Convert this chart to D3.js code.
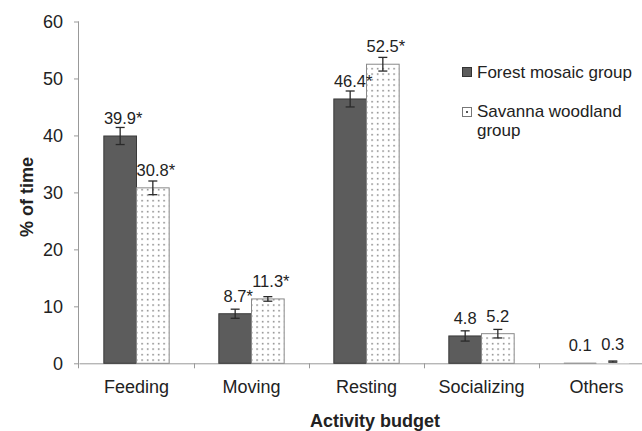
<!DOCTYPE html>
<html>
<head>
<meta charset="utf-8">
<script src="https://cdn.jsdelivr.net/npm/d3@7/dist/d3.min.js"></script>
<style>
  html, body { margin: 0; padding: 0; background: #fff; }
  svg { display: block; }
  text { font-family: "Liberation Sans", Arial, sans-serif; fill: #222; }
</style>
</head>
<body>
<svg id="chart" width="642" height="431"></svg>
<script>
// Activity budget data (% of time, mean ± SE)
const categories = ["Feeding", "Moving", "Resting", "Socializing", "Others"];
const seriesNames = ["Forest mosaic group", "Savanna woodland group"];
const forestValues = [39.9, 8.7, 46.4, 4.8, 0.1];
const savannaValues = [30.8, 11.3, 52.5, 5.2, 0.3];
const forestErrors = [1.5, 0.8, 1.4, 0.9, 0];
const savannaErrors = [1.2, 0.4, 1.2, 0.75, 0.1];
const significant = [true, true, true, false, false];
const yTicks = [0, 10, 20, 30, 40, 50, 60];

const svg = d3.select("#chart");
const margin = { left: 79, top: 21.5, bottom: 363.3, right: 654 };

const y = d3.scaleLinear().domain([0, 60]).range([margin.bottom, margin.top]);
const x0 = d3.scaleBand().domain(categories).range([margin.left, margin.right]).padding(0);
const x1 = d3.scaleBand().domain(seriesNames).range([0, x0.bandwidth()])
  .paddingInner(0).paddingOuter(0.76);

// dotted fill for the savanna series
const defs = svg.append("defs");
const pat = defs.append("pattern").attr("id", "dots")
  .attr("patternUnits", "userSpaceOnUse").attr("width", 5.5).attr("height", 5.5);
pat.append("rect").attr("width", 5.5).attr("height", 5.5).attr("fill", "#fff");
pat.append("rect").attr("x", 2).attr("y", 2).attr("width", 1.3).attr("height", 1.3).attr("fill", "#555");

const rows = categories.map((c, i) => ([
  { cat: c, s: seriesNames[0], v: forestValues[i], e: forestErrors[i], sig: significant[i] },
  { cat: c, s: seriesNames[1], v: savannaValues[i], e: savannaErrors[i], sig: significant[i] }
]));

// y axis
const yAxis = svg.append("g").attr("transform", `translate(${margin.left},0)`)
  .call(d3.axisLeft(y).tickValues(yTicks).tickSize(5).tickPadding(11).tickFormat(d3.format("d")));
yAxis.select(".domain").attr("stroke", "#999").attr("d", `M-0.5,${margin.top}V${margin.bottom + 5}`);
yAxis.selectAll(".tick line").attr("stroke", "#999");
yAxis.selectAll(".tick text").attr("font-size", 18).attr("fill", "#222")
  .style("font-family", '"Liberation Sans", Arial, sans-serif');

// x axis with labels at band centres
const xAxis = svg.append("g").attr("transform", `translate(0,${margin.bottom})`)
  .call(d3.axisBottom(x0).tickSize(0).tickPadding(17));
xAxis.select(".domain").attr("stroke", "#999");
xAxis.selectAll(".tick text").attr("font-size", 18).attr("fill", "#222")
  .style("font-family", '"Liberation Sans", Arial, sans-serif');
// separators between categories
xAxis.selectAll(".sep").data(categories.slice(1)).enter().append("line")
  .attr("class", "sep")
  .attr("x1", d => Math.round(x0(d)) + 0.5).attr("x2", d => Math.round(x0(d)) + 0.5)
  .attr("y1", 0).attr("y2", 5).attr("stroke", "#999");

// bars
const groups = svg.selectAll(".grp").data(rows).enter().append("g")
  .attr("class", "grp").attr("transform", d => `translate(${x0(d[0].cat)},0)`);

groups.selectAll("rect").data(d => d).enter().append("rect")
  .attr("x", d => x1(d.s))
  .attr("y", d => y(d.v))
  .attr("width", x1.bandwidth())
  .attr("height", d => y(0) - y(d.v))
  .attr("fill", d => d.s === seriesNames[0] ? "#5c5c5c" : "url(#dots)")
  .attr("stroke", d => (y(0) - y(d.v) < 3) ? "none" : (d.s === seriesNames[0] ? "#3a3a3a" : "#8a8a8a"))
  .attr("stroke-width", 1);

// error bars
const eb = groups.selectAll(".err").data(d => d.filter(r => r.e > 0)).enter().append("g")
  .attr("class", "err")
  .attr("transform", d => `translate(${x1(d.s) + x1.bandwidth() / 2},0)`);
eb.append("line").attr("x1", 0).attr("x2", 0)
  .attr("y1", d => y(d.v + d.e)).attr("y2", d => y(d.v - d.e));
eb.append("line").attr("x1", -4.5).attr("x2", 4.5)
  .attr("y1", d => y(d.v + d.e)).attr("y2", d => y(d.v + d.e));
eb.append("line").attr("x1", -4.5).attr("x2", 4.5)
  .attr("y1", d => y(d.v - d.e)).attr("y2", d => y(d.v - d.e));
eb.selectAll("line").attr("stroke", "#2a2a2a").attr("stroke-width", 1.3);

// value labels
groups.selectAll(".val").data(d => d).enter().append("text")
  .attr("class", "val")
  .attr("x", d => x1(d.s) + x1.bandwidth() / 2 + (d.sig ? 3 : 0))
  .attr("y", d => y(d.v) - 12)
  .attr("text-anchor", "middle")
  .attr("font-size", 16.5)
  .text(d => d.v.toFixed(1) + (d.sig ? "*" : ""));

// axis titles
svg.append("text").attr("x", 375).attr("y", 427).attr("text-anchor", "middle")
  .attr("font-size", 18).attr("font-weight", "bold").attr("fill", "#111").text("Activity budget");
svg.append("text").attr("transform", "translate(33,197) rotate(-90)").attr("text-anchor", "middle")
  .attr("font-size", 18).attr("font-weight", "bold").attr("fill", "#111").text("% of time");

// legend
const lg = svg.append("g").attr("transform", "translate(462,67)");
lg.append("rect").attr("x", 0.5).attr("y", 0.5).attr("width", 9).attr("height", 9)
  .attr("fill", "#5c5c5c").attr("stroke", "#333");
lg.append("text").attr("x", 15).attr("y", 10.5).attr("font-size", 17).text(seriesNames[0]);
lg.append("rect").attr("x", 0.5).attr("y", 40.5).attr("width", 9).attr("height", 9)
  .attr("fill", "#fff").attr("stroke", "#777");
lg.append("rect").attr("x", 4).attr("y", 44).attr("width", 2).attr("height", 2).attr("fill", "#555");
const lt = lg.append("text").attr("x", 15).attr("y", 50).attr("font-size", 17);
lt.append("tspan").attr("x", 15).text("Savanna woodland");
lt.append("tspan").attr("x", 15).attr("dy", 18.5).text("group");
</script>
</body>
</html>
